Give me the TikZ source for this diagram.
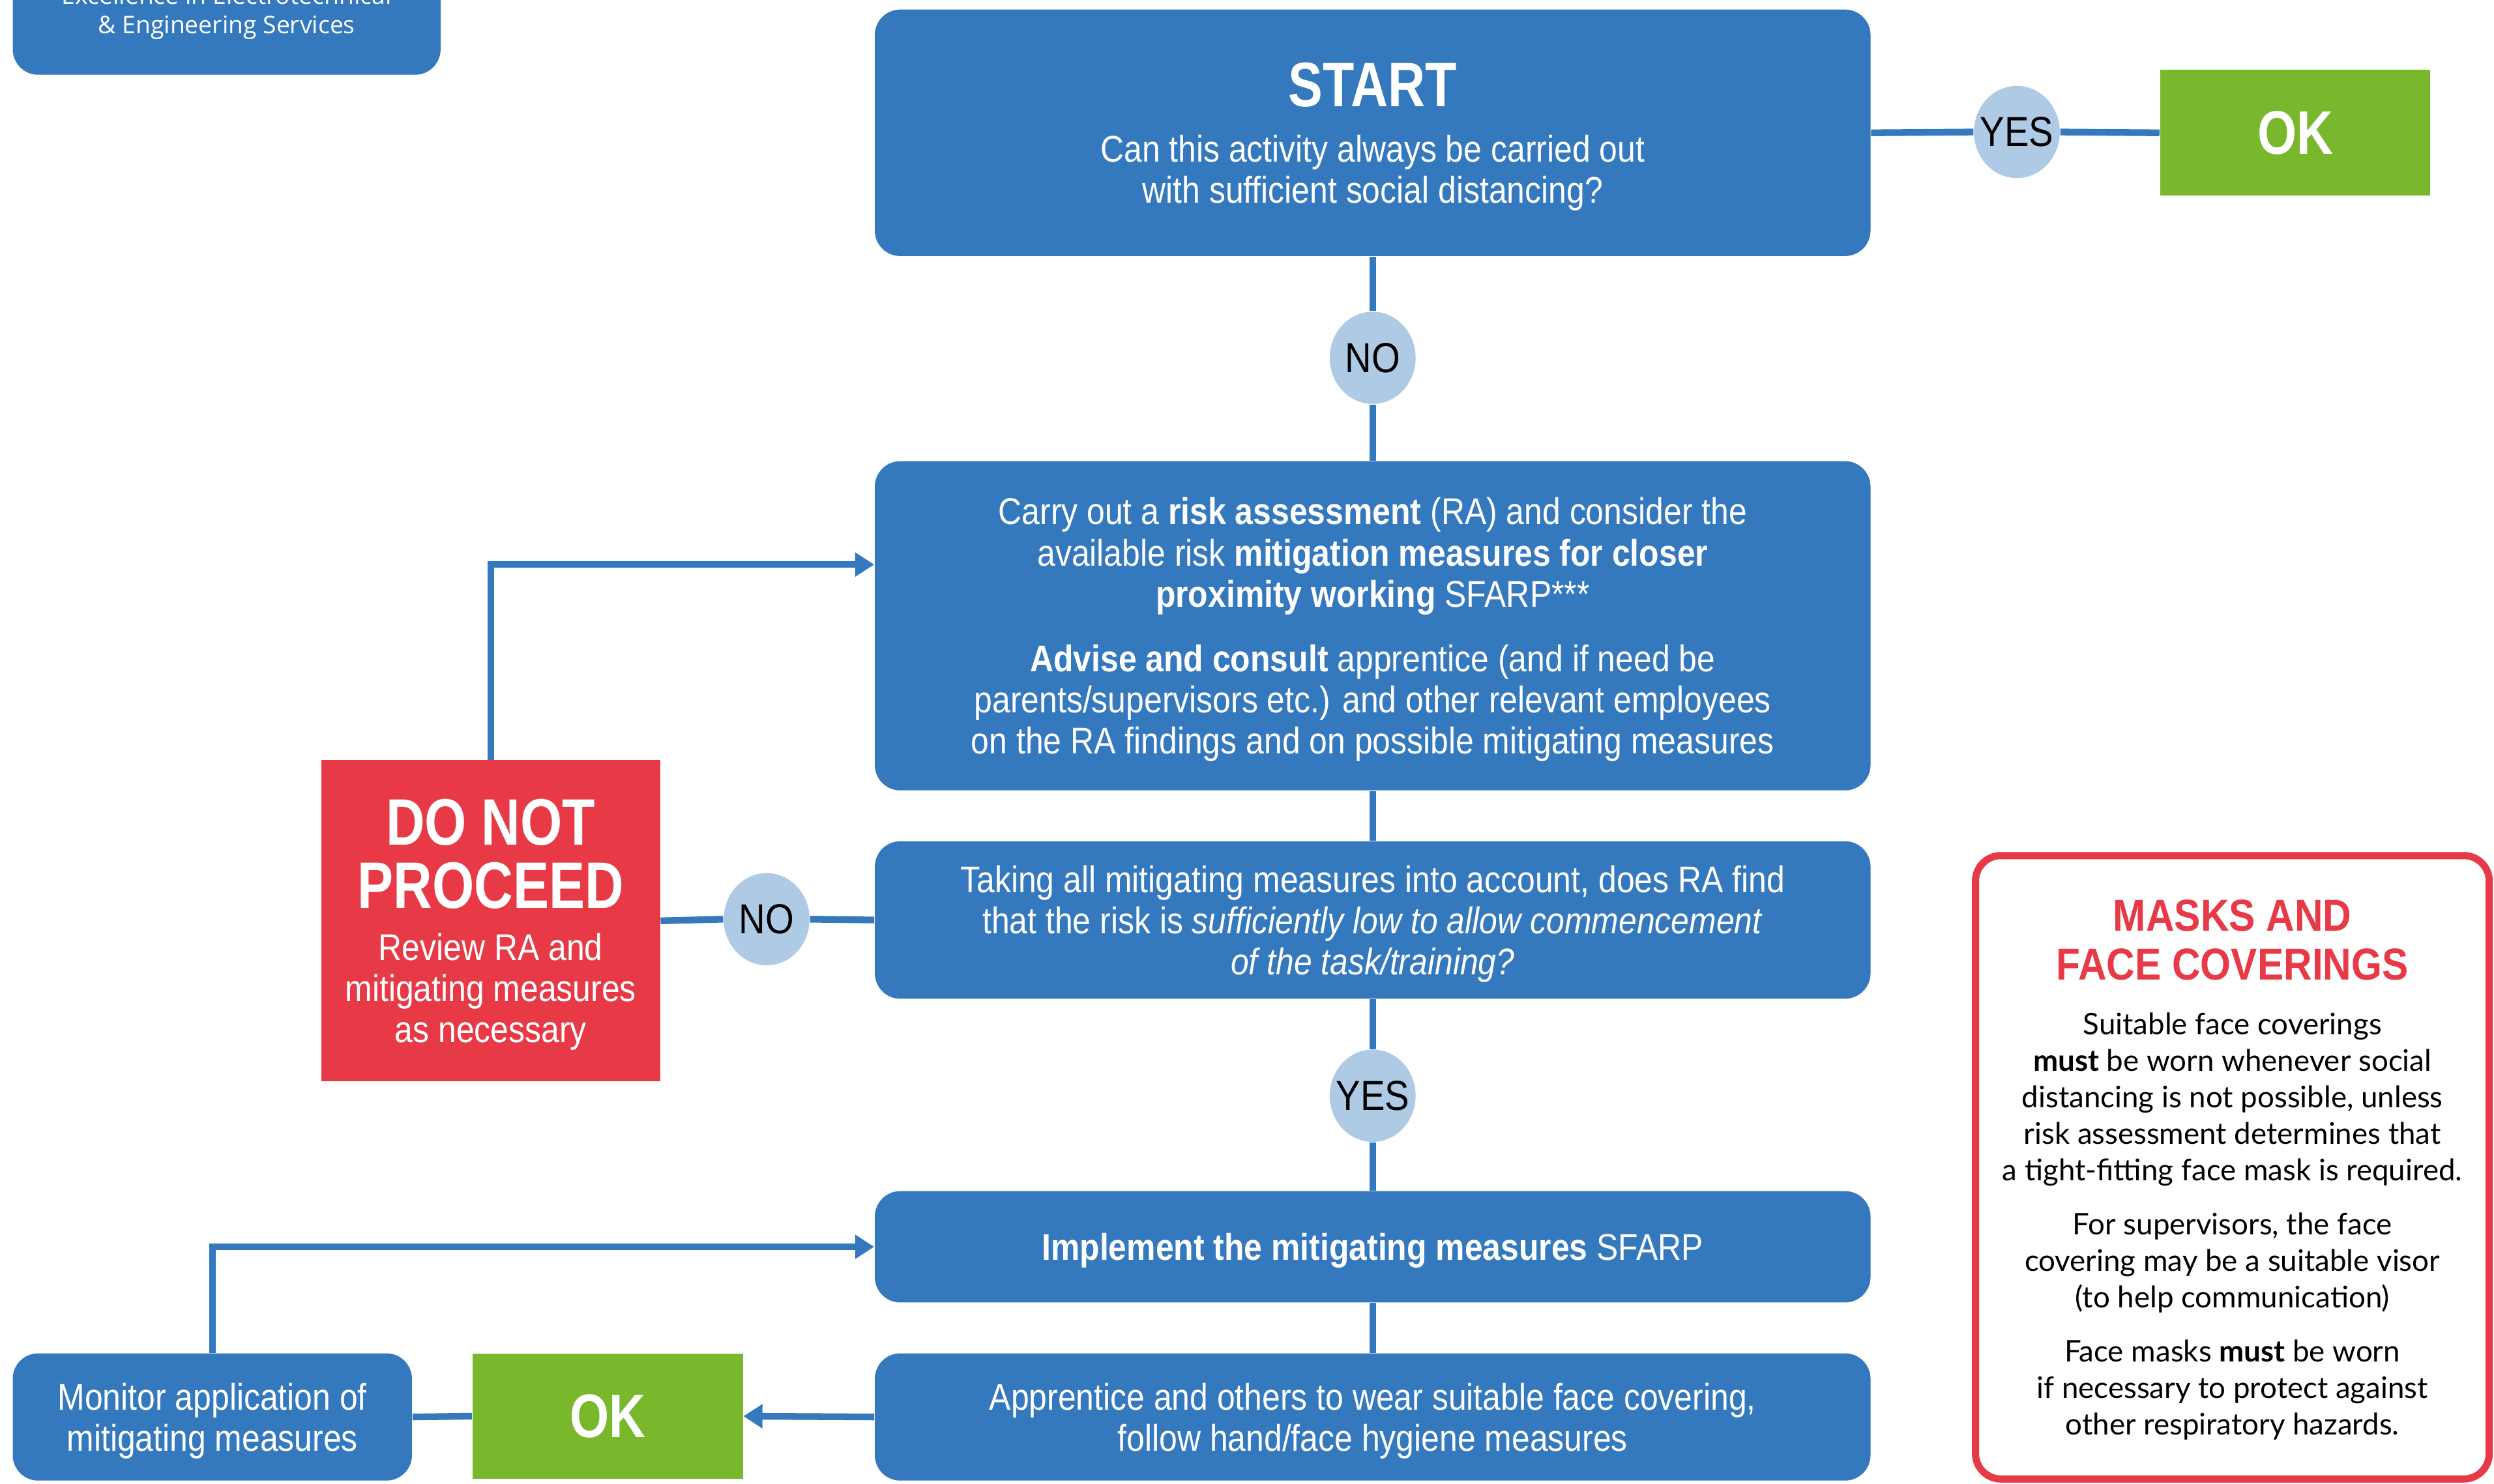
\documentclass[tikz,border=0pt]{standalone}
\usepackage{fontspec}
\setmainfont{Liberation Sans}[FakeStretch=0.875]
\newfontfamily\headcond{Liberation Sans}[FakeStretch=0.82]
\newfontfamily\logofont{Open Sans}
\newfontfamily\maskfont{Lato}
\newfontfamily\headfont{Liberation Sans}[FakeStretch=0.88]
\usetikzlibrary{arrows.meta}
\usetikzlibrary{shapes.geometric}
\usetikzlibrary{positioning}

\definecolor{flowblue}{RGB}{52,120,189}
\definecolor{answerblue}{RGB}{174,202,229}
\definecolor{stopred}{RGB}{232,58,70}
\definecolor{okgreen}{RGB}{121,183,44}

\newcommand{\bigtitle}[1]{{\headcond\fontsize{23.5}{22}\selectfont\bfseries #1}}
\newcommand{\starttitle}[1]{{\headcond\fontsize{22.5}{22}\selectfont\bfseries #1}}
\newcommand{\maskhead}[1]{{\headfont\fontsize{16}{17.6}\selectfont\bfseries\color{stopred}#1}}

\tikzset{
  flowbox/.style={rectangle,rounded corners=3.2mm,fill=flowblue,text=white,align=center,inner sep=0pt,text depth=0pt,font=\fontsize{13.3}{14.7}\selectfont},
  okbox/.style={rectangle,fill=okgreen,text=white,inner sep=0pt,minimum width=34mm,minimum height=15.8mm,font=\headcond\fontsize{22}{22}\selectfont\bfseries},
  answer/.style={ellipse,fill=answerblue,inner xsep=-1mm,inner ysep=0pt,minimum width=10.8mm,minimum height=11.6mm,font=\fontsize{15}{15}\selectfont},
  link/.style={draw=flowblue,line width=2.4pt},
  linkarrow/.style={link,-{Triangle[length=2.4mm,width=2.9mm]}}
}

\begin{document}
\begin{tikzpicture}[x=0.2mm,y=-0.2mm]
\useasboundingbox (0,0) rectangle (1568,933);
\clip (0,0) rectangle (1568,933);

% logo box, cut at the top
\fill[flowblue,rounded corners=3.2mm] (8,-60) rectangle (277,47);
\node[text=white,align=center,font=\logofont\fontsize{8.7}{10.6}\selectfont] (logo) at (142.5,8) {Excellence in Electrotechnical\\ \& Engineering Services};

% main column
\node[flowbox,minimum width=125.2mm,minimum height=31mm] (start) at (863,83.5) {\starttitle{START}\\[5pt] Can this activity always be carried out\\ with sufficient social distancing?};
\node[flowbox,minimum width=125.2mm,minimum height=41.4mm] (ra) at (863,393.5) {Carry out a \textbf{risk assessment} (RA) and consider the\\ available risk \textbf{mitigation measures for closer}\\ \textbf{proximity working} SFARP***\\[3mm] \textbf{Advise and consult} apprentice (and if need be\\ parents/supervisors etc.) and other relevant employees\\ on the RA findings and on possible mitigating measures};
\node[flowbox,minimum width=125.2mm,minimum height=19.8mm] (q) at (863,578.5) {Taking all mitigating measures into account, does RA find\\ that the risk is \textit{sufficiently low to allow commencement}\\ \textit{of the task/training?}};
\node[flowbox,minimum width=125.2mm,minimum height=14mm] (impl) at (863,784) {\textbf{Implement the mitigating measures} SFARP};
\node[flowbox,minimum width=125.2mm,minimum height=16mm] (appr) at (863,891) {Apprentice and others to wear suitable face covering,\\ follow hand/face hygiene measures};

% side boxes
\node[okbox] (ok1) at (1443,83.5) {OK};
\node[okbox] (ok2) at (382,890.5) {OK};
\node[flowbox,minimum width=50.2mm,minimum height=16mm] (mon) at (133.5,891) {Monitor application of\\ mitigating measures};
\node[rectangle,fill=stopred,text=white,align=center,inner sep=0pt,text depth=0pt,minimum width=42.6mm,minimum height=40.4mm,font=\fontsize{13.3}{14.7}\selectfont] (stop) at (308.5,579) {\bigtitle{DO NOT}\\[5pt] \bigtitle{PROCEED}\\[4pt] Review RA and\\ mitigating measures\\ as necessary};

% answers
\node[answer] (yes1) at (1268,83) {YES};
\node[answer] (no1) at (863,225) {NO};
\node[answer] (no2) at (482,578) {NO};
\node[answer] (yes2) at (863,689) {YES};

% connectors
\draw[link] (start.east) -- (yes1.west);
\draw[link] (yes1.east) -- (ok1.west);
\draw[link] (start.south) -- (no1.north);
\draw[link] (no1.south) -- (ra.north);
\draw[linkarrow] (stop.north) |- ([yshift=7.7mm]ra.west);
\draw[link] (ra.south) -- (q.north);
\draw[link] (q.west) -- (no2.east);
\draw[link] (no2.west) -- (stop.east);
\draw[link] (q.south) -- (yes2.north);
\draw[link] (yes2.south) -- (impl.north);
\draw[link] (impl.south) -- (appr.north);
\draw[linkarrow] (appr.west) -- (ok2.east);
\draw[link] (ok2.west) -- (mon.east);
\draw[linkarrow] (mon.north) |- (impl.west);

% masks note
\node[rectangle,rounded corners=3.2mm,draw=stopred,line width=0.9mm,fill=white,align=center,inner sep=0pt,text depth=0pt,minimum width=64.6mm,minimum height=78.4mm,font=\maskfont\fontsize{10.65}{13.1}\selectfont] (masks) at (1403.5,734) {\maskhead{MASKS AND}\\[4.6pt] \maskhead{FACE COVERINGS}\\[6.3pt] Suitable face coverings\\ \textbf{must} be worn whenever social\\ distancing is not possible, unless\\ risk assessment determines that\\ a tight-fitting face mask is required.\\[6.2pt] For supervisors, the face\\ covering may be a suitable visor\\ (to help communication)\\[6.2pt] Face masks \textbf{must} be worn\\ if necessary to protect against\\ other respiratory hazards.};

\end{tikzpicture}
\end{document}
